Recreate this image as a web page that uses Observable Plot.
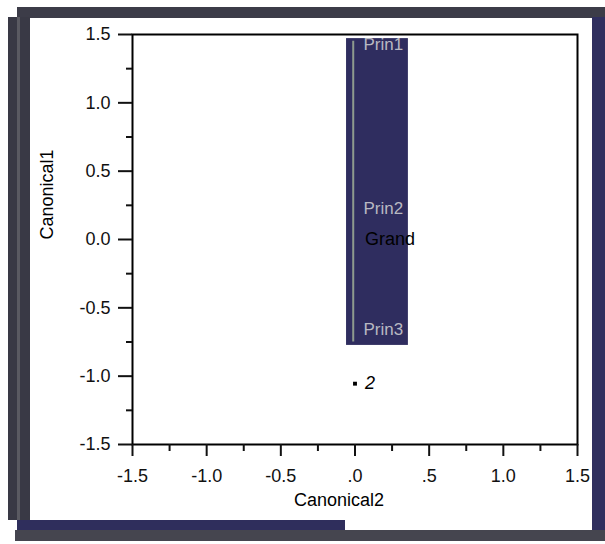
<!DOCTYPE html>
<html>
<head>
<meta charset="utf-8">
<script src="https://cdn.jsdelivr.net/npm/d3@7"></script>
<script src="https://cdn.jsdelivr.net/npm/@observablehq/plot@0.6"></script>
<style>
  html, body { margin: 0; padding: 0; background: #ffffff; }
  #wrap { position: relative; width: 605px; height: 544px; overflow: hidden; background: #ffffff; font-family: "Liberation Sans", Arial, sans-serif; }
  .band { position: absolute; }
  #chart { position: absolute; left: 0; top: 0; }
</style>
</head>
<body>
<div id="wrap">
  <div class="band" style="left:17px;top:7px;width:588px;height:11px;background:#3c3c48;"></div>
  <div class="band" style="left:8px;top:17px;width:22px;height:503px;background:#393945;"></div>
  <div class="band" style="left:17px;top:17px;width:3px;height:503px;background:#5a5a62;"></div>
  <div class="band" style="left:592px;top:17px;width:13px;height:513px;background:#302f5f;"></div>
  <div class="band" style="left:17px;top:520px;width:328px;height:12px;background:#2f2e5c;"></div>
  <div class="band" style="left:15px;top:530px;width:590px;height:11px;background:#45454f;"></div>
  <div id="chart"></div>
</div>
<script>
// ---- data ----
const xTicks = [-1.5, -1, -0.5, 0, 0.5, 1, 1.5];
const xTickLabels = ["-1.5", "-1.0", "-0.5", ".0", ".5", "1.0", "1.5"];
const yTicks = [-1.5, -1, -0.5, 0, 0.5, 1, 1.5];
const yTickLabels = ["-1.5", "-1.0", "-0.5", "0.0", "0.5", "1.0", "1.5"];
const minorTicks = [-1.25, -0.75, -0.25, 0.25, 0.75, 1.25];

// scanned patch covering the vector area
const patchX1 = [-0.057];
const patchX2 = [0.36];
const patchY1 = [-0.775];
const patchY2 = [1.47];

// vector (principal component) labels
const vectorNames = ["Prin1", "Prin2", "Prin3"];
const vectorX = [0.057, 0.057, 0.057];
const vectorY = [1.43, 0.23, -0.66];

// group means
const groupNames = ["Grand", "2"];
const groupX = [0.0, 0.0];
const groupY = [0.0, -1.055];

const xLabel = "Canonical2";
const yLabel = "Canonical1";

// ---- build tables ----
const patch = patchX1.map((d, i) => ({x1: d, x2: patchX2[i], y1: patchY1[i], y2: patchY2[i]}));
const vectors = vectorNames.map((n, i) => ({name: n, x: vectorX[i], y: vectorY[i]}));
const groups = groupNames.map((n, i) => ({name: n, x: groupX[i], y: groupY[i]}));
const xFmt = new Map(xTicks.map((t, i) => [t, xTickLabels[i]]));
const yFmt = new Map(yTicks.map((t, i) => [t, yTickLabels[i]]));

const chart = Plot.plot({
  width: 605,
  height: 544,
  marginLeft: 132,
  marginRight: 28,
  marginTop: 34,
  marginBottom: 100,
  style: {background: "transparent", fontFamily: "'Liberation Sans', Arial, sans-serif", fontSize: "18px", color: "#111"},
  x: {domain: [-1.5, 1.5]},
  y: {domain: [-1.5, 1.5]},
  marks: [
    Plot.rect(patch, {x1: "x1", x2: "x2", y1: "y1", y2: "y2", fill: "#2f2d5f"}),
    Plot.ruleX([groupX[0] - 0.012], {y1: vectorY[2] - 0.09, y2: vectorY[0] + 0.02, stroke: "#8e9a8e", strokeWidth: 2}),
    Plot.text(vectors, {x: "x", y: "y", text: "name", textAnchor: "start", fill: "#b9b9c2", fontSize: 17}),
    Plot.text(groups.filter(d => d.name === "Grand"), {x: "x", y: "y", text: "name", textAnchor: "start", dx: 10, fill: "#000", fontSize: 18}),
    Plot.dot(groups.filter(d => d.name !== "Grand"), {x: "x", y: "y", symbol: "square", r: 2.2, fill: "#000", stroke: "none"}),
    Plot.text(groups.filter(d => d.name !== "Grand"), {x: "x", y: "y", text: "name", textAnchor: "start", dx: 10, fill: "#000", fontSize: 18, fontStyle: "italic"}),
    Plot.frame({stroke: "#000", strokeWidth: 2}),
    Plot.axisX(xTicks, {anchor: "bottom", tickSize: 12, tickPadding: 13, strokeWidth: 2, tickFormat: d => xFmt.get(d), label: null, fontSize: 18}),
    Plot.axisX(minorTicks, {anchor: "bottom", tickSize: 7, strokeWidth: 2, tickFormat: () => "", label: null}),
    Plot.axisY(yTicks, {anchor: "left", tickSize: 14, tickPadding: 8, strokeWidth: 2, tickFormat: d => yFmt.get(d), label: null, fontSize: 18}),
    Plot.axisY(minorTicks, {anchor: "left", tickSize: 6, strokeWidth: 2, tickFormat: () => "", label: null}),
    Plot.text([xLabel], {frameAnchor: "bottom", dy: 61, dx: -16, fontSize: 18, fill: "#000"}),
    Plot.text([yLabel], {frameAnchor: "left", dx: -85, rotate: -90, fontSize: 18, fill: "#000"})
  ]
});
document.getElementById("chart").appendChild(chart);
</script>
</body>
</html>
